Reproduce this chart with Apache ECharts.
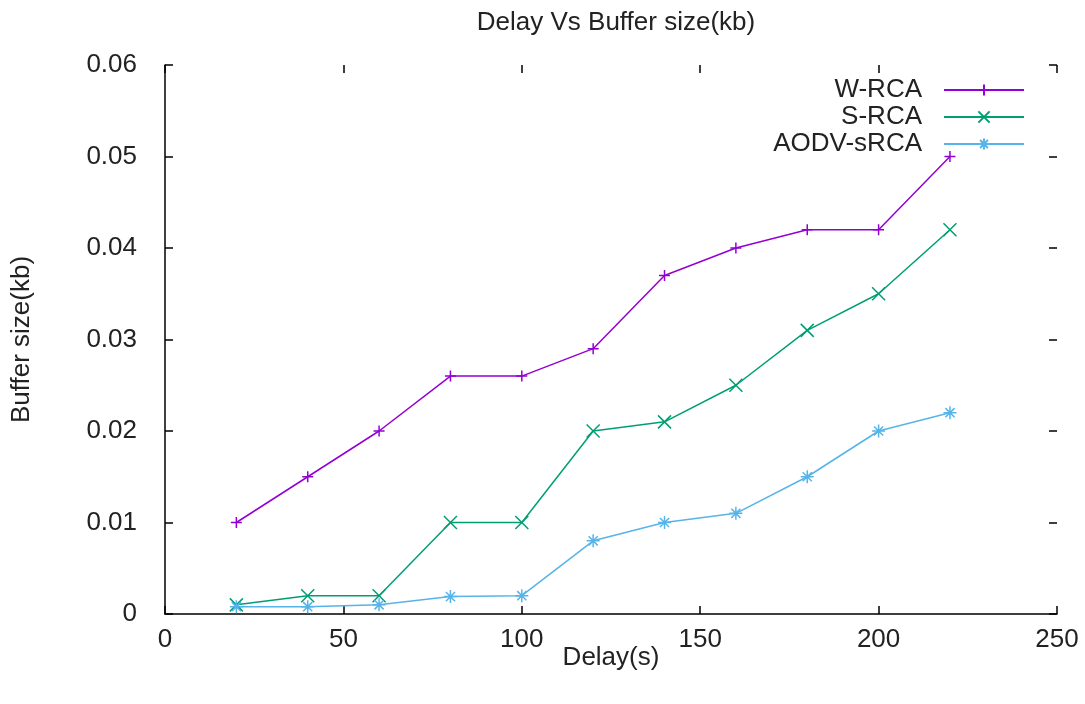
<!DOCTYPE html>
<html>
<head>
<meta charset="utf-8">
<script src="https://cdn.jsdelivr.net/npm/echarts@6/dist/echarts.min.js"></script>
<style>html,body{margin:0;padding:0;background:#fff}#c{width:1085px;height:704px}</style>
</head>
<body>
<div id="c"></div>
<script>
const delays = [20, 40, 60, 80, 100, 120, 140, 160, 180, 200, 220];
const wrca = [0.010, 0.015, 0.020, 0.026, 0.026, 0.029, 0.037, 0.040, 0.042, 0.042, 0.050];
const srca = [0.001, 0.002, 0.002, 0.010, 0.010, 0.020, 0.021, 0.025, 0.031, 0.035, 0.042];
const aodv = [0.0008, 0.0008, 0.001, 0.0019, 0.002, 0.008, 0.010, 0.011, 0.015, 0.020, 0.022];
const seriesNames = ['W-RCA', 'S-RCA', 'AODV-sRCA'];
const titleText = 'Delay Vs Buffer size(kb)';
const xName = 'Delay(s)';
const yName = 'Buffer size(kb)';

const FONT = 'Liberation Sans';
const FS = 26;
const plus = 'path://M5,0L5,10M0,5L10,5';
const cross = 'path://M0,0L10,10M10,0L0,10';
const star = 'path://M5,0L5,10M0,5L10,5M1.5,1.5L8.5,8.5M8.5,1.5L1.5,8.5';
const colors = ['#9400d3', '#009e73', '#56b4e9'];
const symbols = [plus, cross, star];
const values = [wrca, srca, aodv];

const pair = arr => delays.map((d, i) => [d, arr[i]]);

const chart = echarts.init(document.getElementById('c'), null, {renderer: 'canvas'});
const axisText = {color: '#222', fontFamily: FONT, fontSize: FS};
const tick = {show: true, inside: true, length: 8, lineStyle: {color: '#000', width: 1.5}};
chart.setOption({
  animation: false,
  backgroundColor: '#fff',
  title: {
    text: titleText, left: 611, top: 5, textAlign: 'center',
    textStyle: {fontFamily: FONT, fontSize: FS, fontWeight: 'normal', color: '#222'}
  },
  legend: {
    orient: 'vertical', right: 55, top: 72, align: 'right',
    itemWidth: 80, itemHeight: 14, itemGap: 1,
    textStyle: {fontFamily: FONT, fontSize: FS, color: '#222', padding: [0, 17, 0, 0]},
    data: seriesNames
  },
  grid: {left: 165, right: 28, top: 65, bottom: 90, containLabel: false},
  xAxis: [{
    type: 'value', min: 0, max: 250, interval: 50,
    name: xName, nameLocation: 'middle', nameGap: 31, nameMoveOverlap: false,
    nameTextStyle: axisText,
    axisLine: {show: true, onZero: false, lineStyle: {color: '#000', width: 1.5}},
    axisTick: tick,
    axisLabel: Object.assign({margin: 13}, axisText),
    splitLine: {show: false}
  }, {
    type: 'value', position: 'top', min: 0, max: 250, interval: 50,
    axisLine: {show: false, onZero: false},
    axisTick: tick,
    axisLabel: {show: false}, splitLine: {show: false}
  }],
  yAxis: [{
    type: 'value', min: 0, max: 0.06, interval: 0.01,
    name: yName, nameLocation: 'middle', nameGap: 130,
    nameTextStyle: axisText,
    axisLine: {show: true, onZero: false, lineStyle: {color: '#000', width: 1.5}},
    axisTick: tick,
    axisLabel: Object.assign({margin: 28}, axisText),
    splitLine: {show: false}
  }, {
    type: 'value', position: 'right', min: 0, max: 0.06, interval: 0.01,
    axisLine: {show: false, onZero: false},
    axisTick: tick,
    axisLabel: {show: false}, splitLine: {show: false}
  }],
  series: seriesNames.map((n, i) => ({
    name: n, type: 'line', xAxisIndex: 0, yAxisIndex: 0,
    data: pair(values[i]),
    symbol: symbols[i], symbolSize: i === 0 ? 11 : 13,
    showSymbol: true,
    lineStyle: {color: colors[i], width: 1.5},
    itemStyle: {color: colors[i], borderColor: colors[i], borderWidth: 1.5}
  }))
});
</script>
</body>
</html>
